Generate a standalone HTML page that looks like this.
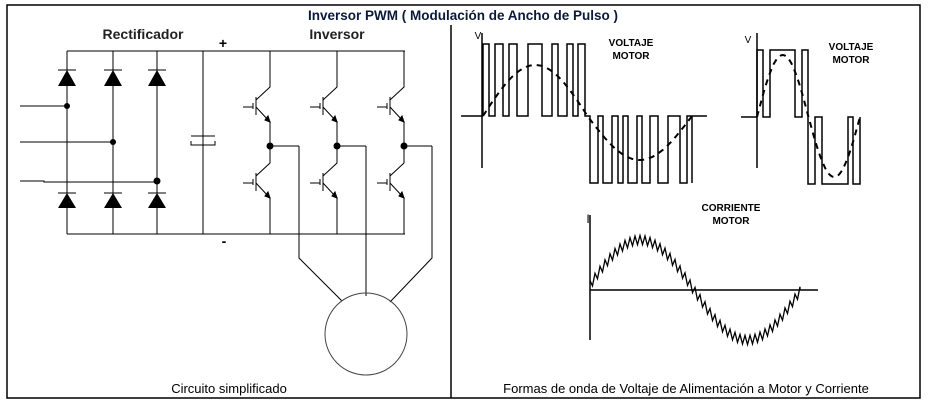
<!DOCTYPE html>
<html><head><meta charset="utf-8"><style>
html,body{margin:0;padding:0;background:#fff;}
svg{display:block;}
text{font-family:"Liberation Sans",Arial,sans-serif;}
</style></head><body>
<svg id="s" width="932" height="404" viewBox="0 0 932 404" xmlns="http://www.w3.org/2000/svg">
<rect width="932" height="404" fill="#fff"/>
<g stroke="#000" stroke-width="1.5" fill="none">
<path d="M7,5 H920 V398 H7 Z"/>
<path d="M451,25 V398"/>
</g>
<text x="463" y="20" text-anchor="middle" font-size="13.5" font-weight="bold" fill="#0a1a3a">Inversor PWM ( Modulación de Ancho de Pulso )</text>
<text x="143" y="39" text-anchor="middle" font-size="14" font-weight="bold" fill="#222">Rectificador</text>
<text x="337" y="39" text-anchor="middle" font-size="14" font-weight="bold" fill="#222">Inversor</text>
<text x="223" y="48" text-anchor="middle" font-size="14" font-weight="bold">+</text>
<text x="224" y="246" text-anchor="middle" font-size="14" font-weight="bold">-</text>
<text x="229" y="393" text-anchor="middle" font-size="13">Circuito simplificado</text>
<text x="686" y="393" text-anchor="middle" font-size="13">Formas de onda de Voltaje de Alimentación a Motor y Corriente</text>

<g id="circ" stroke="#000" stroke-width="1" fill="none">
<path d="M67,51 H405 M67,234 H405"/>
<path d="M67,51 V234 M113,51 V234 M157,51 V234 M203,51 V234"/>
<path d="M20,106 H67 M20,142 H113 M20,181 H44 V182 H157"/>
<path d="M191,136 H215 M191,141 V145 H215 V141" />
<path d="M299,146 V258 L342,301 M366,146 V296 M432,146 V258 L390,302"/>
<path d="M270,146 H299 M337,146 H366 M404,146 H432"/>
<circle cx="366" cy="334" r="41" stroke="#444"/>
</g>
<g fill="#000" id="dots">
<circle cx="67" cy="106" r="3"/><circle cx="113" cy="142" r="3"/><circle cx="157" cy="181" r="3.5"/>
<circle cx="270" cy="146" r="3.5"/><circle cx="337" cy="146" r="3.5"/><circle cx="404" cy="146" r="3.5"/>
</g>
<g id="diodes"></g>
<g id="igbts" stroke="#000" stroke-width="1" fill="none"></g>

<g stroke="#000" stroke-width="1.5" fill="none">
<path d="M482,33 V168 M461,116 H483"/>
<path d="M483,116 V44 H489 V116 H495 V44 H503 V116 H509 V44 H517 V116 H528 V44 H542 V116 H552 V44 H558 V116 H567 V44 H573 V116 H578 V44 H585 V116 H590 V183 H598 V116 H603 V183 H612 V116 H618 V183 H623 V116 H628 V183 H637 V116 H642 V183 H650 V116 H658 V183 H668 V116 H680 V183 H687 V116 H692 V183 H692 M692,116 H707"/>
<path d="M757,33 V168 M741,117 H757"/>
<path d="M757,117 V50 H763 V117 H770 V50 H795 V117 H802 V50 H808 V184 H815 V117 H822 V184 H848 V117 H853 V184 H860 V117"/>
<path d="M590,215 V340 M590,290 H818"/>
</g>
<path id="sin1" stroke="#000" stroke-width="2" stroke-dasharray="6,5" fill="none"/>
<path id="sin2" stroke="#000" stroke-width="2" stroke-dasharray="6,5" fill="none"/>
<path id="cur" stroke="#000" stroke-width="1.3" fill="none"/>
<g font-size="10" font-weight="bold" text-anchor="middle">
<text x="478" y="39" font-weight="normal">V</text>
<text x="748" y="43" font-weight="normal">V</text>
<text x="631" y="46">VOLTAJE</text><text x="631" y="59">MOTOR</text>
<text x="851" y="50">VOLTAJE</text><text x="851" y="63">MOTOR</text>
<text x="731" y="211">CORRIENTE</text><text x="731" y="224">MOTOR</text>
<text x="588" y="223" font-weight="normal" font-family="Liberation Serif,serif" font-size="12">I</text>
</g>
</svg>
<script>
var NS="http://www.w3.org/2000/svg";
function el(p,t,a){var e=document.createElementNS(NS,t);for(var k in a)e.setAttribute(k,a[k]);document.getElementById(p).appendChild(e);}
[67,113,157].forEach(function(x){
 [[70,86],[193,208]].forEach(function(r){
  el("diodes","path",{d:"M"+(x-9)+","+r[0]+" H"+(x+9),stroke:"#000","stroke-width":1});
  el("diodes","path",{d:"M"+x+","+r[0]+" L"+(x+9)+","+r[1]+" L"+(x-9)+","+r[1]+" Z",fill:"#000"});
 });
});
[270,337,404].forEach(function(x){
 [[51,87,146],[146,163,234]].forEach(function(r){
  var y=r[1];
  var d="M"+x+","+r[0]+" V"+y+" L"+(x-14)+","+(y+13)+" M"+(x-14)+","+(y+10)+" V"+(y+28)+" M"+(x-17)+","+(y+16)+" V"+(y+22)+" M"+(x-17)+","+(y+20)+" H"+(x-27)+" M"+(x-14)+","+(y+20)+" L"+(x-1)+","+(y+34)+" M"+x+","+(y+34)+" V"+r[2];
  el("igbts","path",{d:d});
  el("igbts","path",{d:"M"+(x-5)+","+(y+33)+" L"+(x)+","+(y+35)+" L"+(x-2)+","+(y+29)+" Z",fill:"#000"});
 });
});
function sinpath(x0,x1,y0,A,B){var d="";for(var i=0;i<=80;i++){var t=i/80,x=x0+(x1-x0)*t,s=Math.sin(2*Math.PI*t);var y=y0-(s>0?A:B)*s;d+=(i?"L":"M")+x.toFixed(1)+","+y.toFixed(1);}return d;}
document.getElementById("sin1").setAttribute("d",sinpath(483,692,116,51,44));
document.getElementById("sin2").setAttribute("d",sinpath(757,860,117,62,60));
var d="",n=42;for(var i=0;i<=n*2;i++){var t=i/(n*2);var x=590+(800-590)*t;var s=Math.sin(2*Math.PI*t*0.98+0.1);var y=290-50*s+((i%2)?4.5:-4.5);d+=(i?"L":"M")+x.toFixed(1)+","+y.toFixed(1);}
d+="L800,290";
document.getElementById("cur").setAttribute("d",d);
</script>
</body></html>
